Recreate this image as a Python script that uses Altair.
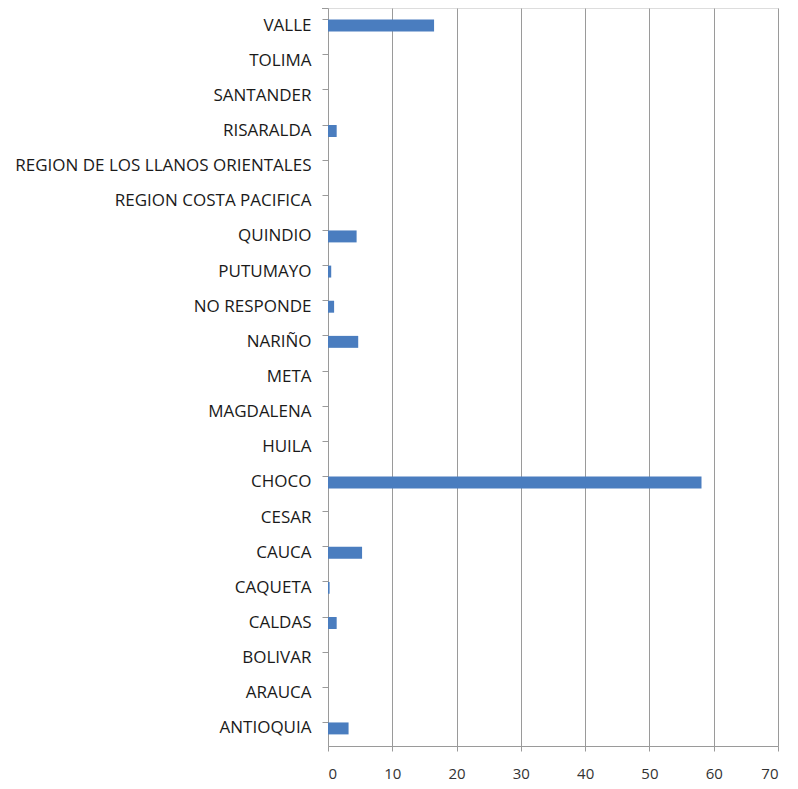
import altair as alt
import pandas as pd

categories = ["VALLE", "TOLIMA", "SANTANDER", "RISARALDA",
              "REGION DE LOS LLANOS ORIENTALES", "REGION COSTA PACIFICA",
              "QUINDIO", "PUTUMAYO", "NO RESPONDE", "NARIÑO", "META",
              "MAGDALENA", "HUILA", "CHOCO", "CESAR", "CAUCA", "CAQUETA",
              "CALDAS", "BOLIVAR", "ARAUCA", "ANTIOQUIA"]
values = [16.5, 0, 0, 1.35, 0, 0, 4.45, 0.5, 0.95, 4.7, 0, 0, 0, 58.1, 0,
          5.3, 0.25, 1.35, 0, 0, 3.2]

df = pd.DataFrame({"dept": categories, "val": values})

font = "Open Sans"

bars = alt.Chart(df).mark_bar(color="#4a7dbf").encode(
    x=alt.X("val:Q",
            scale=alt.Scale(domain=[0, 70], nice=False),
            axis=alt.Axis(values=[0, 10, 20, 30, 40, 50, 60, 70],
                          title=None, grid=True, gridColor="#9a9a9a",
                          gridWidth=1, domainColor="#9a9a9a",
                          tickColor="#9a9a9a", tickSize=5,
                          labelFont=font, labelFontSize=15,
                          labelColor="#333333", labelPadding=15)),
    y=alt.Y("dept:N", sort=categories,
            scale=alt.Scale(paddingInner=0.66, paddingOuter=0.33),
            axis=alt.Axis(title=None, domainColor="#9a9a9a",
                          tickColor="#9a9a9a", tickSize=6, bandPosition=0,
                          labelFont=font, labelFontSize=17, labelLimit=400,
                          labelColor="#1a1a1a", labelPadding=11,
                          labelBaseline="middle")),
)

top_tick = alt.Chart(df).mark_rule(color="#9a9a9a").encode(
    x=alt.value(-6), x2=alt.value(0), y=alt.value(0)
)

chart = alt.layer(bars, top_tick).properties(
    width=450, height=738,
    autosize=alt.AutoSizeParams(type="none"),
    padding={"left": 320, "top": 0, "right": 12, "bottom": 35},
).configure_view(stroke=None).configure(background="white")

chart.save("out.html", embed_options={"renderer": "svg", "actions": False})
